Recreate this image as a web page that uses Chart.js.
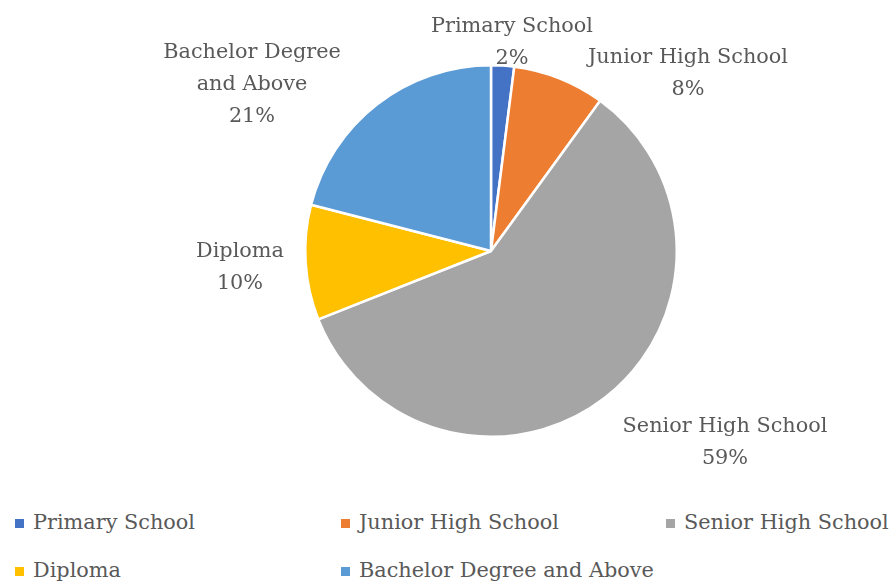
<!DOCTYPE html>
<html>
<head>
<meta charset="utf-8">
<script src="https://cdn.jsdelivr.net/npm/chart.js@4.4.1/dist/chart.umd.min.js"></script>
<style>
  body { margin: 0; background: #fff; }
  #wrap { position: relative; width: 890px; height: 583px; }
  #pie { position: absolute; left: 0; top: 0; }
  #legend { position: absolute; left: 0; top: 500px; width: 890px; font-family: "DejaVu Serif", serif; font-size: 20.8px; color: #595959; }
  .item { position: absolute; height: 24px; line-height: 24px; white-space: nowrap; }
  .box { display: inline-block; width: 9px; height: 9px; margin-right: 9px; vertical-align: 1px; }
</style>
</head>
<body>
<div id="wrap">
  <canvas id="pie" width="890" height="500"></canvas>
  <div id="legend"></div>
</div>
<script>
// 데이터
const categories = ['Primary School', 'Junior High School', 'Senior High School', 'Diploma', 'Bachelor Degree and Above'];
const shares = [2, 8, 59, 10, 21];
const sliceColors = ['#4472C4', '#ED7D31', '#A5A5A5', '#FFC000', '#5B9BD5'];

// 라벨 줄바꿈 / 위치 (파이 중심 기준)
const labelLines = [['Primary School'], ['Junior High School'], ['Senior High School'], ['Diploma'], ['Bachelor Degree', 'and Above']];
const labelOffset = [[21, -208], [197, -177], [234, 192], [-251, 17], [-239, -166]];

const outsideLabels = {
	id: 'outsideLabels',
	afterDatasetsDraw(chart) {
		const ctx = chart.ctx;
		const meta = chart.getDatasetMeta(0);
		ctx.save();
		ctx.font = '20.8px "DejaVu Serif", serif';
		ctx.fillStyle = '#595959';
		ctx.textAlign = 'center';
		ctx.textBaseline = 'middle';
		meta.data.forEach((arc, i) => {
			const lines = labelLines[i].concat([shares[i] + '%']);
			const cx = arc.x + labelOffset[i][0];
			const cy = arc.y + labelOffset[i][1];
			const lh = 32;
			const top = cy - (lines.length - 1) * lh / 2;
			lines.forEach((t, k) => ctx.fillText(t, cx, top + k * lh));
		});
		ctx.restore();
	}
};

const chart = new Chart(document.getElementById('pie'), {
	type: 'pie',
	data: {
		labels: categories,
		datasets: [{
			data: shares,
			backgroundColor: sliceColors,
			borderColor: '#ffffff',
			borderWidth: 2.5
		}]
	},
	options: {
		responsive: false,
		animation: false,
		layout: { padding: { left: 92, right: 0, top: 64, bottom: 62 } },
		plugins: {
			legend: { display: false },
			tooltip: { enabled: false }
		}
	},
	plugins: [outsideLabels]
});

// 범례 (3열 그리드)
const legendCols = [15, 341, 666];
const legendRows = [10, 58];
const legend = document.getElementById('legend');
categories.forEach((name, i) => {
	const el = document.createElement('div');
	el.className = 'item';
	el.style.left = legendCols[i % 3] + 'px';
	el.style.top = legendRows[Math.floor(i / 3)] + 'px';
	el.innerHTML = '<span class="box" style="background:' + sliceColors[i] + '"></span>' + name;
	legend.appendChild(el);
});
</script>
</body>
</html>
